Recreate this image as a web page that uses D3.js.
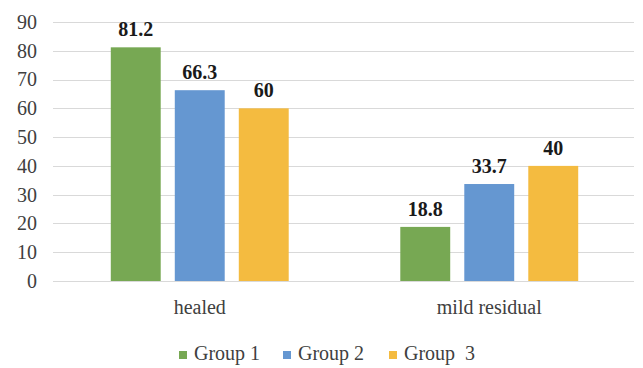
<!DOCTYPE html>
<html>
<head>
<meta charset="utf-8">
<script src="https://cdn.jsdelivr.net/npm/d3@7"></script>
<style>
  body { margin: 0; background: #fff; }
</style>
</head>
<body>
<div id="chart"></div>
<script>
// data
categories = ["healed", "mild residual"]
seriesNames = ["Group 1", "Group 2", "Group  3"]
group1 = [81.2, 18.8]
group2 = [66.3, 33.7]
group3 = [60, 40]
yTicks = [0, 10, 20, 30, 40, 50, 60, 70, 80, 90]
colors = ["#77a853", "#6597d1", "#f4bb40"]

seriesValues = [group1, group2, group3]

width = 643
height = 368
font = "Liberation Serif"

svg = d3.select("#chart")
  .append("svg")
  .attr("width", width)
  .attr("height", height)
  .attr("font-family", font)

// scales
y = d3.scaleLinear()
  .domain([0, 90])
  .range([281, 22])

x0 = d3.scaleBand()
  .domain(categories)
  .range([55, 634])

x1 = d3.scaleBand()
  .domain(seriesNames)
  .range([-96, 96])
  .paddingInner(0.22)
  .paddingOuter(0.11)

// gridlines
svg.append("g")
  .selectAll("line")
  .data(yTicks)
  .join("line")
    .attr("x1", 53)
    .attr("x2", 634)
    .attr("y1", d => Math.round(y(d)) + 0.5)
    .attr("y2", d => Math.round(y(d)) + 0.5)
    .style("stroke", "#d9d9d9")
    .style("stroke-width", 1)

// y axis labels
yAxis = svg.append("g")
  .attr("transform", "translate(37,0)")
  .call(d3.axisLeft(y).tickValues(yTicks).tickSize(0).tickPadding(0))
yAxis.attr("font-family", font).attr("font-size", 20)
yAxis.select(".domain").remove()
yAxis.selectAll("text")
  .attr("font-family", font)
  .style("font-family", font)
  .style("font-size", "20px")
  .style("fill", "#404040")

// x axis labels
xAxis = svg.append("g")
  .attr("transform", "translate(0,300)")
  .call(d3.axisBottom(x0).tickSize(0).tickPadding(0))
xAxis.attr("font-family", font).attr("font-size", 20)
xAxis.select(".domain").remove()
xAxis.selectAll("text")
  .attr("font-family", font)
  .style("font-family", font)
  .style("font-size", "20px")
  .style("fill", "#404040")

// bars
rows = []
categories.forEach((c, i) => {
  seriesNames.forEach((s, j) => {
    rows.push({cat: c, series: s, value: seriesValues[j][i], color: colors[j]})
  })
})

cx = c => x0(c) + x0.bandwidth() / 2

svg.append("g")
  .selectAll("rect")
  .data(rows)
  .join("rect")
    .attr("x", d => cx(d.cat) + x1(d.series))
    .attr("y", d => y(d.value))
    .attr("width", x1.bandwidth())
    .attr("height", d => y(0) - y(d.value))
    .style("fill", d => d.color)

// value labels
svg.append("g")
  .selectAll("text")
  .data(rows)
  .join("text")
    .attr("x", d => cx(d.cat) + x1(d.series) + x1.bandwidth() / 2)
    .attr("y", d => y(d.value) - 11)
    .attr("text-anchor", "middle")
    .style("font-family", font)
    .style("font-size", "20px")
    .style("font-weight", "bold")
    .style("fill", "#1a1a1a")
    .text(d => d.value)

// legend
legendX = [179, 283, 389]
legend = svg.append("g")
  .selectAll("g")
  .data(seriesNames)
  .join("g")
    .attr("transform", (d, i) => `translate(${legendX[i]}, 0)`)
legend.append("rect")
  .attr("x", 0)
  .attr("y", 351)
  .attr("width", 8)
  .attr("height", 8)
  .style("fill", (d, i) => colors[i])
legend.append("text")
  .attr("x", 15)
  .attr("y", 360)
  .style("font-family", font)
  .style("font-size", "20px")
  .style("fill", "#404040")
  .style("white-space", "pre")
  .text(d => d)
</script>
</body>
</html>
